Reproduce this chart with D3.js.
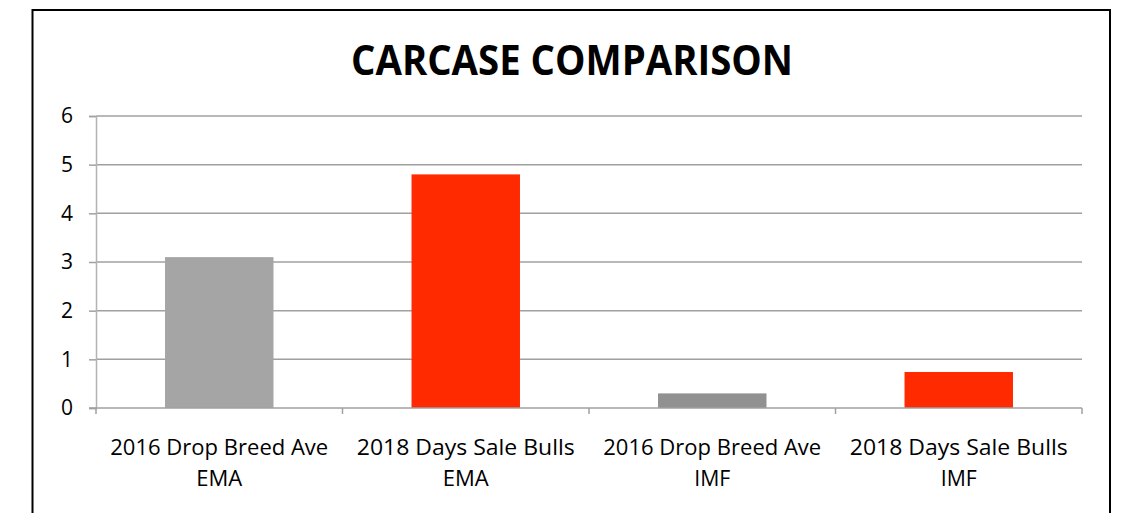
<!DOCTYPE html>
<html><head><meta charset="utf-8">
<script src="https://cdn.jsdelivr.net/npm/d3@7/dist/d3.min.js"></script>
<style>body{margin:0;background:#fff;}svg{display:block;}</style>
</head><body>
<svg id="c" width="1123" height="513"></svg>
<script>
const categories = ["2016 Drop Breed Ave|EMA", "2018 Days Sale Bulls|EMA", "2016 Drop Breed Ave|IMF", "2018 Days Sale Bulls|IMF"];
const values = [3.1, 4.8, 0.3, 0.74];
const barColors = ["#A5A5A5", "#FF2A00", "#919191", "#FF2A00"];
const yTicks = [0, 1, 2, 3, 4, 5, 6];
const title = "CARCASE COMPARISON";

const svg = d3.select("#c");
const font = "'Open Sans', 'DejaVu Sans', sans-serif";

// frame
svg.append("rect").attr("x", 32.5).attr("y", 10).attr("width", 1077.5).attr("height", 520)
  .attr("fill", "#fff").attr("stroke", "#000").attr("stroke-width", 2);

const x = d3.scaleBand().domain(categories).range([96, 1082]).paddingInner(0.56).paddingOuter(0.28);
const xb = d3.scaleBand().domain(categories).range([96, 1082]);
const y = d3.scaleLinear().domain([0, 6]).range([408, 116]);

// gridlines
svg.append("g").selectAll("line").data(yTicks.slice(1)).join("line")
  .attr("x1", 96).attr("x2", 1082).attr("y1", d => y(d)).attr("y2", d => y(d))
  .attr("stroke", "#A0A0A0").attr("stroke-width", 1.5);

// y axis
const ya = svg.append("g").attr("transform", "translate(96,0)")
  .call(d3.axisLeft(y).tickValues(yTicks).tickFormat(d3.format("d")).tickSize(7).tickPadding(16));
ya.select(".domain").attr("stroke", "#B3B3B3").attr("stroke-width", 1.5);
ya.selectAll(".tick line").attr("stroke", "#A0A0A0").attr("stroke-width", 1.5);
ya.selectAll(".tick text").attr("font-family", font).attr("font-size", 21).attr("fill", "#000");

// bars
svg.append("g").selectAll("rect").data(values).join("rect")
  .attr("x", (d, i) => x(categories[i])).attr("width", x.bandwidth())
  .attr("y", d => y(d)).attr("height", d => y(0) - y(d))
  .attr("fill", (d, i) => barColors[i]);

// x axis
svg.append("line").attr("x1", 89).attr("x2", 1082).attr("y1", y(0)).attr("y2", y(0))
  .attr("stroke", "#A0A0A0").attr("stroke-width", 1.6);
const bounds = categories.map(c => xb(c)).concat([xb(categories[3]) + xb.bandwidth()]);
svg.append("g").selectAll("line").data(bounds).join("line")
  .attr("x1", d => d).attr("x2", d => d).attr("y1", y(0)).attr("y2", y(0) + 6)
  .attr("stroke", "#A0A0A0").attr("stroke-width", 1.5);

// category labels
const lg = svg.append("g");
categories.forEach(c => {
  const cx = xb(c) + xb.bandwidth() / 2;
  const parts = c.split("|");
  lg.append("text").attr("x", cx).attr("y", 455).attr("text-anchor", "middle")
    .attr("font-family", font).attr("font-size", 21).attr("fill", "#000").text(parts[0])
    .attr("textLength", 218).attr("lengthAdjust", "spacingAndGlyphs");
  lg.append("text").attr("x", cx).attr("y", 486).attr("text-anchor", "middle")
    .attr("font-family", font).attr("font-size", 21).attr("fill", "#000").text(parts[1])
    .attr("textLength", parts[1] === "EMA" ? 46 : 36).attr("lengthAdjust", "spacingAndGlyphs");
});

// title
svg.append("text").attr("x", 572).attr("y", 75).attr("text-anchor", "middle")
  .attr("font-family", font).attr("font-weight", "bold").attr("font-size", 42)
  .attr("fill", "#000").text(title)
  .attr("textLength", 442).attr("lengthAdjust", "spacingAndGlyphs");
</script>
</body></html>
